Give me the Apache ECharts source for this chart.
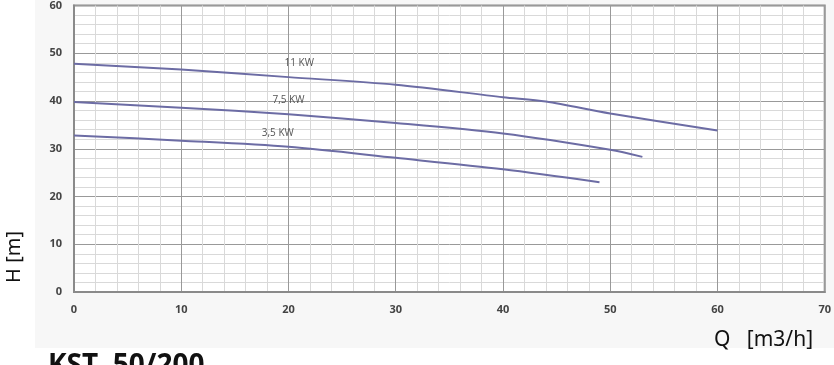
<!DOCTYPE html>
<html>
<head>
<meta charset="utf-8">
<script src="https://cdn.jsdelivr.net/npm/echarts@6/dist/echarts.min.js"></script>
<style>html,body{margin:0;padding:0;background:#fff;}#c{width:834px;height:365px;}</style>
</head>
<body>
<div id="c"></div>
<script>
var flowQ11 = [0, 10, 20, 30, 40, 44, 50, 60];
var head11 = [47.8, 46.6, 45, 43.4, 40.8, 39.9, 37.4, 33.8];
var flowQ75 = [0, 10, 20, 30, 40, 50, 53];
var head75 = [39.8, 38.6, 37.2, 35.4, 33.2, 29.8, 28.3];
var flowQ35 = [0, 10, 20, 30, 40, 49];
var head35 = [32.8, 31.7, 30.4, 28.1, 25.7, 23];
var curveNames = ['11 KW', '7,5 KW', '3,5 KW'];
var labelQ = [21, 20, 19];
var labelH = [48, 40.2, 33.2];
var xTicks = [0, 10, 20, 30, 40, 50, 60, 70];
var yTicks = [0, 10, 20, 30, 40, 50, 60];

function pairs(q, h) { return q.map(function (v, i) { return [v, h[i]]; }); }
var curves = [pairs(flowQ11, head11), pairs(flowQ75, head75), pairs(flowQ35, head35)];

var chart = echarts.init(document.getElementById('c'), null, {renderer: 'canvas'});
var tickFont = {color: '#444', fontSize: 11, fontWeight: 'bold', fontFamily: 'Open Sans'};
var option = {
  animation: false,
  backgroundColor: '#fff',
  graphic: [
    {type: 'rect', z: -10, shape: {x: 35, y: 0, width: 799, height: 348}, style: {fill: '#f7f7f7'}},
    {type: 'text', left: 4, top: 231, rotation: Math.PI / 2, style: {text: 'H [m]', fontSize: 20, fill: '#111', fontFamily: 'Noto Sans'}},
    {type: 'text', left: 714, top: 330, style: {text: 'Q   [m3/h]', fontSize: 21, fill: '#111', fontFamily: 'Noto Sans'}},
    {type: 'text', left: 48, top: 352, style: {text: 'KST  50/200', fontSize: 28, fontWeight: 'bold', fill: '#111', fontFamily: 'Noto Sans'}}
  ],
  grid: {left: 74, top: 5, width: 751, height: 287, show: true, borderColor: '#8a8a8a', borderWidth: 2, backgroundColor: '#fff'},
  xAxis: {
    type: 'value', min: xTicks[0], max: xTicks[xTicks.length - 1], interval: 10,
    axisLine: {show: true, lineStyle: {color: '#8a8a8a', width: 2}},
    axisTick: {show: false},
    axisLabel: Object.assign({margin: 12}, tickFont),
    splitLine: {show: true, lineStyle: {color: '#999', width: 1}},
    minorTick: {show: false, splitNumber: 5},
    minorSplitLine: {show: true, lineStyle: {color: '#d9d9d9', width: 1}}
  },
  yAxis: {
    type: 'value', min: yTicks[0], max: yTicks[yTicks.length - 1], interval: 10,
    axisLine: {show: true, lineStyle: {color: '#8a8a8a', width: 2}},
    axisTick: {show: false},
    axisLabel: Object.assign({margin: 12}, tickFont),
    splitLine: {show: true, lineStyle: {color: '#999', width: 1}},
    minorTick: {show: false, splitNumber: 5},
    minorSplitLine: {show: true, lineStyle: {color: '#d9d9d9', width: 1}}
  },
  series: curves.map(function (d, i) {
    return {
      type: 'line', name: curveNames[i], data: d, smooth: 0.3, symbol: 'none',
      lineStyle: {color: '#6c6ca4', width: 2},
      markPoint: {
        symbol: 'circle', symbolSize: 0,
        data: [{coord: [labelQ[i], labelH[i]], value: curveNames[i]}],
        label: {show: true, position: 'inside', formatter: curveNames[i], color: '#555', fontSize: 10, fontFamily: 'Open Sans'}
      }
    };
  })
};
chart.setOption(option);
</script>
</body>
</html>
